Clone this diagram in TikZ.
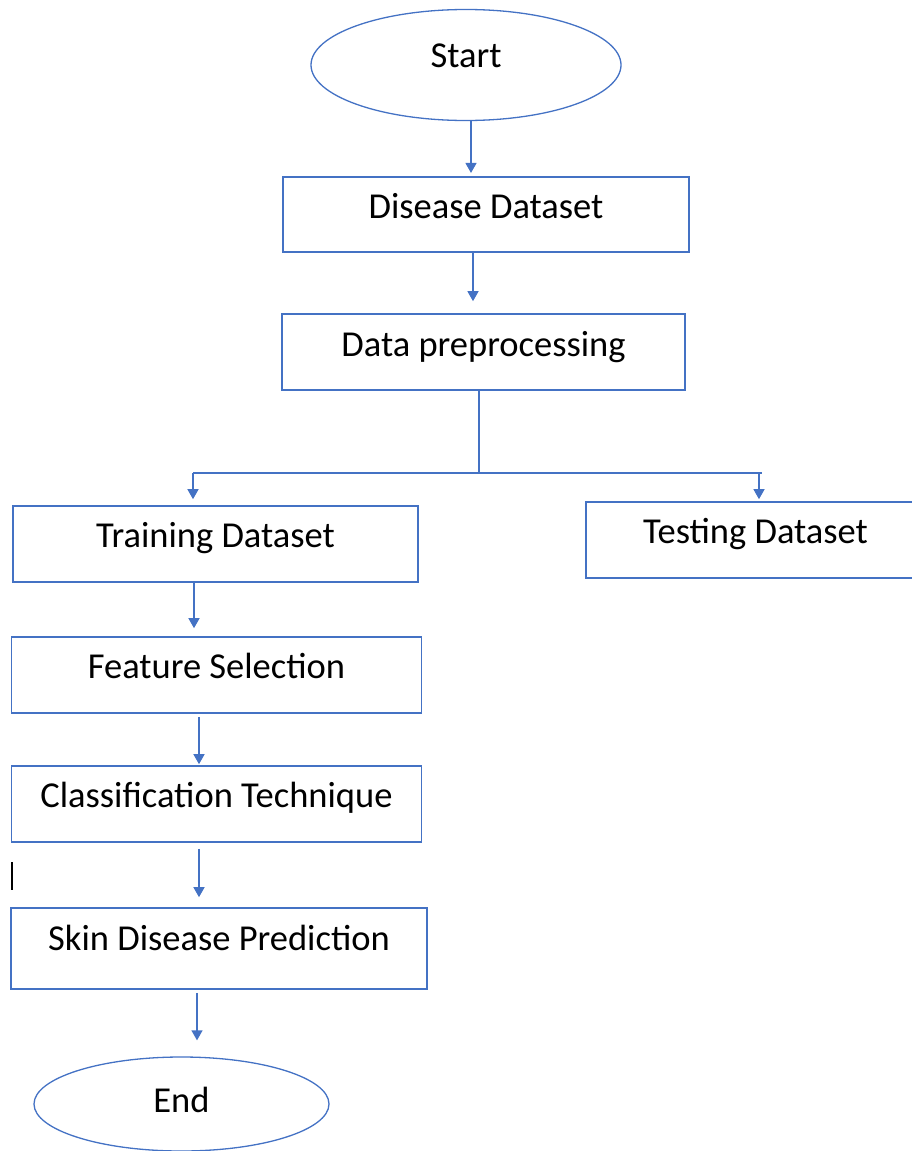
\documentclass[tikz,border=0pt]{standalone}
\usepackage{fontspec}
\setmainfont{Carlito}
\usetikzlibrary{arrows.meta,shapes.geometric}
\definecolor{flowblue}{HTML}{4472C4}
\begin{document}
\begin{tikzpicture}[x=1pt,y=-1pt,
  lbl/.style={font=\fontsize{36.5}{40}\selectfont, text=black, inner sep=0pt, text height=24pt, text depth=18pt},
  box/.style={lbl, draw=flowblue, line width=1.6pt, rectangle, minimum height=76pt},
  oval/.style={lbl, draw=flowblue, line width=1.3pt, ellipse},
  link/.style={draw=flowblue, line width=1.3pt},
  conn/.style={link, -{Triangle[width=11pt,length=10pt]}},
]
\useasboundingbox (0,0) rectangle (912,1151);
\clip (0,0) rectangle (912,1151);

% nodes
\node[oval, minimum width=310pt, minimum height=111pt, text depth=18.6pt] (start) at (466,65) {Start};
\node[box, minimum width=406pt, minimum height=75.3pt, text depth=16.8pt] (dd) at (486,214.4) {Disease Dataset};
\node[box, minimum width=403pt, text depth=16pt] (prep) at (483.5,352) {Data preprocessing};
\node[box, minimum width=405pt] (train) at (215.5,544) {Training Dataset};
\node[box, minimum width=339pt] (test) at (755.5,540) {Testing Dataset};
\node[box, minimum width=410pt] (feat) at (216.5,675) {Feature Selection};
\node[box, minimum width=410pt] (class) at (216.5,804) {Classification Technique};
\node[box, minimum width=416pt, minimum height=81pt, text depth=21pt] (skin) at (219,948.5) {Skin Disease Prediction};
\node[oval, minimum width=295pt, minimum height=94pt, text depth=8pt] (end) at (181.5,1104) {End};

% split coordinates
\coordinate (split) at (479,473);
\coordinate (hl) at (193,473);
\coordinate (hr) at (759,473);

% connectors
\draw[conn, shorten >=3pt] ([xshift=5pt]start.south) -- ([xshift=5pt]start.south |- dd.north);
\draw[conn, shorten >=12pt] ([xshift=-13pt]dd.south) -- ([xshift=-13pt]dd.south |- prep.north);
\draw[link] ([xshift=-4.5pt]prep.south) -- (split);
\draw[link] (hl) -- ([xshift=3pt]hr);
\draw[conn, shorten >=6pt] (hl) -- (hl |- train.north);
\draw[conn, shorten >=2pt] (hr) -- (hr |- test.north);
\draw[conn, shorten >=8pt] ([xshift=-21.5pt]train.south) -- ([xshift=-21.5pt]train.south |- feat.north);
\draw[conn, shorten <=3pt, shorten >=1pt] ([xshift=-17.5pt]feat.south) -- ([xshift=-17.5pt]feat.south |- class.north);
\draw[conn, shorten <=6pt, shorten >=10pt] ([xshift=-17.5pt]class.south) -- ([xshift=-17.5pt]class.south |- skin.north);
\draw[conn, shorten <=3pt, shorten >=16pt] ([xshift=-22pt]skin.south) -- ([xshift=-22pt]skin.south |- end.north);

% text cursor mark
\draw[black, line width=1.3pt] (12,862) -- (12,890);
\end{tikzpicture}
\end{document}
